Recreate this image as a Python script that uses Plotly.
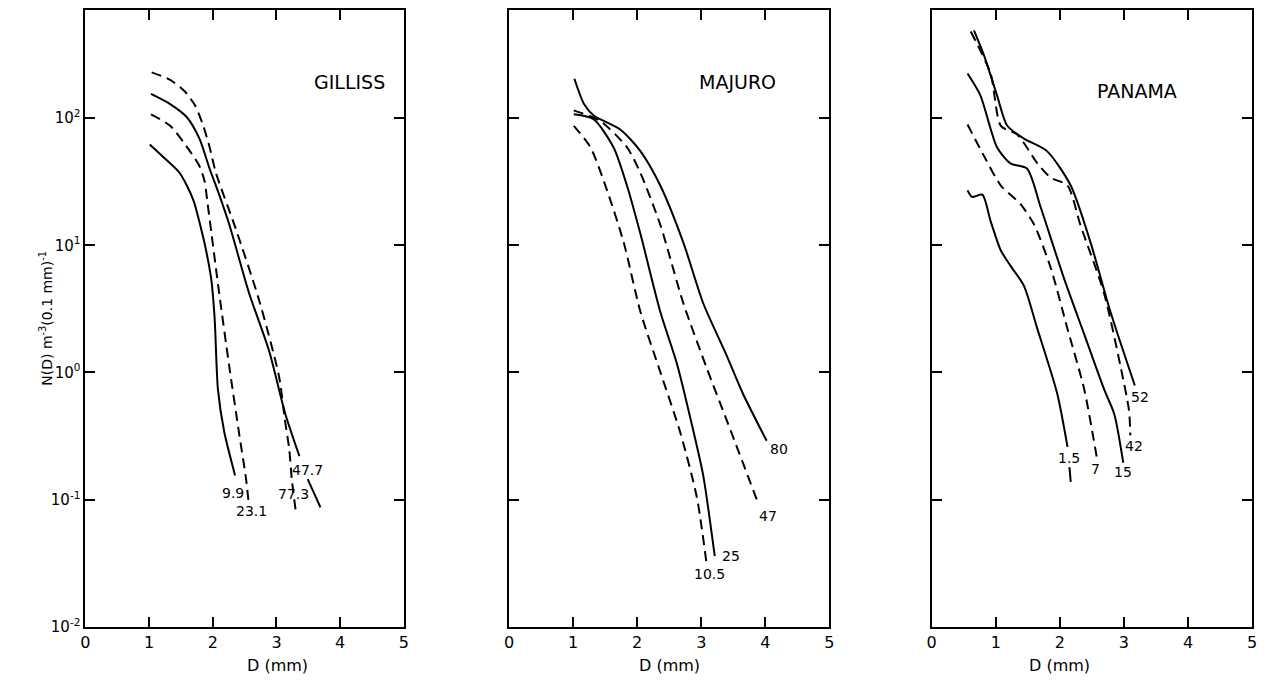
import math
import plotly.graph_objects as go

# ---------------- data (D in mm, N(D) in m^-3 (0.1 mm)^-1) ----------------
# GILLISS
gil_773_d = [1.04, 1.33, 1.56, 1.72, 1.85, 1.95, 2.05, 2.36, 2.72, 3.04, 3.13, 3.20, 3.24, 3.30]
gil_773_n = [229, 200, 162, 126, 87, 59, 37, 13.5, 3.8, 0.93, 0.43, 0.25, 0.145, 0.083]
gil_477_d = [1.03, 1.33, 1.59, 1.79, 1.95, 2.10, 2.26, 2.57, 2.88, 3.14, 3.36, None, 3.49, 3.69]
gil_477_n = [155, 129, 102, 69, 40, 25, 14.5, 4.2, 1.5, 0.47, 0.22, None, 0.145, 0.087]
gil_231_d = [1.03, 1.33, 1.64, 1.79, 1.87, 1.92, 1.98, 2.10, 2.26, 2.41, 2.52, 2.56]
gil_231_n = [107, 87, 55, 42, 32, 21, 12.3, 4.2, 1.1, 0.34, 0.148, 0.098]
gil_99_d = [1.01, 1.23, 1.48, 1.69, 1.85, 1.93, 1.98, 2.03, 2.08, 2.18, 2.35]
gil_99_n = [62, 49, 37, 23, 11.5, 7.4, 5.2, 2.6, 0.74, 0.34, 0.155]

# MAJURO
maj_80_d = [1.02, 1.17, 1.32, 1.74, 2.05, 2.36, 2.72, 3.03, 3.39, 3.65, 4.02]
maj_80_n = [204, 129, 105, 81, 55, 29.5, 10.5, 3.5, 1.38, 0.68, 0.29]
maj_47_d = [1.01, 1.42, 1.84, 2.05, 2.36, 2.72, 3.08, 3.39, 3.89]
maj_47_n = [115, 95, 59, 37, 14.5, 3.5, 1.1, 0.43, 0.093]
maj_25_d = [1.01, 1.32, 1.63, 1.84, 2.05, 2.36, 2.62, 2.88, 3.03, 3.21]
maj_25_n = [107, 98, 59, 29.5, 12.3, 3.0, 1.17, 0.34, 0.155, 0.036]
maj_105_d = [1.01, 1.27, 1.53, 1.79, 2.05, 2.36, 2.67, 2.93, 3.08]
maj_105_n = [87, 59, 27, 10.5, 3.0, 1.01, 0.34, 0.105, 0.032]

# PANAMA
pan_52_d = [0.66, 0.82, 1.02, 1.18, 1.44, 1.80, 2.17, 2.48, 2.79, 3.17]
pan_52_n = [490, 309, 151, 87, 69, 55, 29.5, 10.5, 3.0, 0.79]
pan_42_d = [0.61, 0.92, 1.08, 1.34, 1.65, 1.86, 2.12, 2.32, 2.69, 2.95, 3.08, 3.10]
pan_42_n = [479, 224, 87, 74, 44, 34, 29.5, 14.5, 4.2, 1.1, 0.5, 0.32]
pan_15_d = [0.56, 0.76, 1.02, 1.23, 1.49, 1.70, 2.06, 2.38, 2.69, 2.85, 2.99]
pan_15_n = [224, 151, 59, 44, 40, 20, 5.6, 2.0, 0.74, 0.47, 0.195]
pan_7_d = [0.56, 0.82, 1.08, 1.39, 1.60, 1.86, 2.12, 2.38, 2.58]
pan_7_n = [89, 50, 29.5, 21, 14.5, 6.6, 2.2, 0.74, 0.21]
pan_15b_d = [0.56, 0.63, 0.79, 0.92, 1.08, 1.23, 1.44, 1.65, 1.96, 2.12, None, 2.15, 2.17]
pan_15b_n = [27, 24, 25, 15.5, 9.1, 6.9, 4.8, 2.2, 0.68, 0.26, None, 0.18, 0.138]

site_names = ["GILLISS", "MAJURO", "PANAMA"]
x_tick_vals = [0, 1, 2, 3, 4, 5]
x_tick_text = ["0", "1", "2", "3", "4", "5"]
y_tick_vals = [0.01, 0.1, 1, 10, 100]
y_tick_text = ["10<sup>-2</sup>", "10<sup>-1</sup>", "10<sup>0</sup>", "10<sup>1</sup>", "10<sup>2</sup>"]
x_title = "D (mm)"
y_title = "N(D) m<sup>-3</sup>(0.1 mm)<sup>-1</sup>"

# (panel, D, N, style, label, label_D, label_N)
series = [
    (1, gil_773_d, gil_773_n, "dash", "77.3", 3.27, 0.110),
    (1, gil_477_d, gil_477_n, "solid", "47.7", 3.49, 0.170),
    (1, gil_231_d, gil_231_n, "dash", "23.1", 2.60, 0.081),
    (1, gil_99_d, gil_99_n, "solid", "9.9", 2.32, 0.112),
    (2, maj_80_d, maj_80_n, "solid", "80", 4.22, 0.251),
    (2, maj_47_d, maj_47_n, "dash", "47", 4.04, 0.074),
    (2, maj_25_d, maj_25_n, "solid", "25", 3.46, 0.036),
    (2, maj_105_d, maj_105_n, "dash", "10.5", 3.13, 0.026),
    (3, pan_52_d, pan_52_n, "solid", "52", 3.25, 0.646),
    (3, pan_42_d, pan_42_n, "dash", "42", 3.15, 0.263),
    (3, pan_15_d, pan_15_n, "solid", "15", 2.98, 0.166),
    (3, pan_7_d, pan_7_n, "dash", "7", 2.56, 0.174),
    (3, pan_15b_d, pan_15b_n, "solid", "1.5", 2.14, 0.214),
]

# page body has an 8px margin: figure is drawn 8px in from the window's top-left
OFF = 8
W, H = 1267 - OFF, 685 - OFF
FONT = "DejaVu Sans"
panels_px = [(81 - OFF, 402 - OFF), (508 - OFF, 831 - OFF), (934 - OFF, 1257 - OFF)]
ytop_px, ybot_px = 7 - OFF, 635 - OFF
ydom = [(H - ybot_px) / H, min(1.0, (H - ytop_px) / H)]

fig = go.Figure()

for p, d, n, style, lab, lx, ly in series:
    suffix = "" if p == 1 else str(p)
    fig.add_trace(go.Scatter(
        x=d, y=n, mode="lines",
        line=dict(color="black", width=2, shape="spline", smoothing=0.7,
                  dash="10px,6px" if style == "dash" else "solid"),
        connectgaps=False, showlegend=False, hoverinfo="skip",
        xaxis="x" + suffix, yaxis="y" + suffix,
    ))
    fig.add_annotation(x=lx, y=math.log10(ly), xref="x" + suffix, yref="y" + suffix,
                       text=lab, showarrow=False,
                       font=dict(family=FONT, size=14, color="black"))

title_pos = [(4.14, 2.28), (3.56, 2.28), (3.20, 2.21)]
layout = dict(width=W, height=H, margin=dict(l=0, r=0, t=0, b=0),
              paper_bgcolor="white", plot_bgcolor="white", showlegend=False)
for i, (x0, x1) in enumerate(panels_px):
    k = "" if i == 0 else str(i + 1)
    layout["xaxis" + k] = dict(
        domain=[x0 / W, x1 / W], range=[0, 5], anchor="y" + k,
        tickvals=x_tick_vals, ticktext=x_tick_text,
        ticks="inside", ticklen=10, tickwidth=1.5, tickcolor="black",
        showline=True, linewidth=2, linecolor="black", mirror="ticks",
        showgrid=False, zeroline=False,
        tickfont=dict(family=FONT, size=16, color="black"))
    layout["yaxis" + k] = dict(
        domain=ydom, type="log", range=[-2, 2.85], anchor="x" + k,
        tickvals=y_tick_vals, ticktext=y_tick_text, showticklabels=(i == 0),
        ticks="inside", ticklen=10, tickwidth=1.5, tickcolor="black",
        showline=True, linewidth=2, linecolor="black", mirror="ticks",
        showgrid=False, zeroline=False,
        tickfont=dict(family=FONT, size=15, color="black"))
    fig.add_annotation(x=title_pos[i][0], y=title_pos[i][1], xref="x" + k, yref="y" + k,
                       text=site_names[i], showarrow=False,
                       font=dict(family=FONT, size=19, color="black"))
    fig.add_annotation(x=(x0 + x1) / 2 / W, y=(H - (674 - OFF)) / H, xref="paper", yref="paper",
                       text=x_title, showarrow=False, yanchor="middle",
                       font=dict(family=FONT, size=16, color="black"))

fig.update_layout(**layout)
fig.add_annotation(x=(30 - OFF) / W, y=(H - (321 - OFF)) / H, xref="paper", yref="paper",
                   text=y_title, textangle=-90, showarrow=False,
                   font=dict(family=FONT, size=14, color="black"))

fig.write_html("out.html")
